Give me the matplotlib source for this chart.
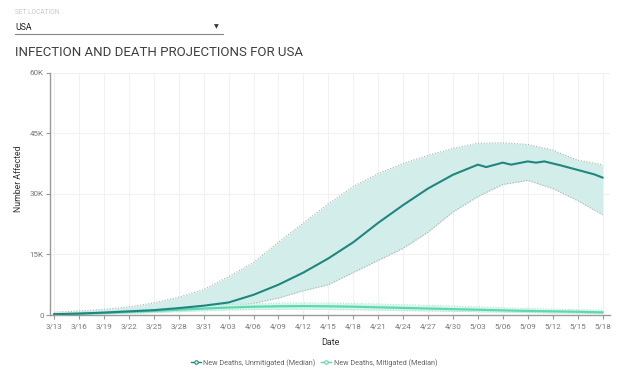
import pandas as pd
import numpy as np
import matplotlib
matplotlib.use('Agg')
import matplotlib.pyplot as plt
from matplotlib.lines import Line2D

plt.rcParams['font.family'] = ['Roboto', 'DejaVu Sans']

# dates every 3 days (band data + tick labels)
band_dates = ['3/13', '3/16', '3/19', '3/22', '3/25', '3/28', '3/31', '4/03', '4/06', '4/09',
              '4/12', '4/15', '4/18', '4/21', '4/24', '4/27', '4/30', '5/03', '5/06', '5/09',
              '5/12', '5/15', '5/18']

# unmitigated deaths, median (finer near the peak)
unmit_dates = ['3/13', '3/16', '3/19', '3/22', '3/25', '3/28', '3/31', '4/03', '4/06', '4/09',
               '4/12', '4/15', '4/18', '4/21', '4/24', '4/27', '4/30', '5/03', '5/04', '5/06',
               '5/07', '5/09', '5/10', '5/11', '5/13', '5/15', '5/17', '5/18']
unmit_median = [200, 350, 600, 900, 1200, 1700, 2300, 3100, 5000, 7500,
                10500, 14000, 18000, 22800, 27200, 31300, 34700, 37200, 36600, 37700,
                37200, 38000, 37700, 38000, 37000, 35900, 34800, 34000]

unmit_upper = [700, 1000, 1400, 2000, 3000, 4400, 6300, 9500, 13000, 18000,
               22800, 27500, 31800, 35000, 37500, 39500, 41200, 42500, 42600, 42200,
               40800, 38300, 37200]
unmit_lower = [100, 200, 300, 450, 650, 950, 1400, 2000, 2900, 4200,
               6000, 7500, 10500, 13500, 16500, 20500, 25500, 29300, 32300, 33300,
               31300, 28300, 24800]

mit_median = [150, 300, 500, 750, 1000, 1300, 1600, 1850, 2050, 2150,
              2200, 2150, 2050, 1900, 1750, 1600, 1450, 1300, 1150, 1000,
              900, 800, 650]
mit_upper = [400, 600, 850, 1150, 1500, 1900, 2300, 2600, 2800, 2950,
             3000, 2950, 2850, 2700, 2550, 2400, 2200, 2000, 1800, 1600,
             1450, 1300, 1200]
mit_lower = [50, 150, 300, 450, 650, 850, 1050, 1250, 1350, 1400,
             1400, 1350, 1300, 1200, 1100, 1000, 900, 800, 700, 600,
             500, 450, 350]

yticks = [0, 15000, 30000, 45000, 60000]
ytick_labels = ['0', '15K', '30K', '45K', '60K']

start = pd.Timestamp('2020-03-13')
def to_days(lst):
    return np.array([(pd.Timestamp('2020/' + d) - start).days for d in lst])

xb = to_days(band_dates)
xm = to_days(unmit_dates)

teal = '#20877e'
teal_fill = '#d3edea'
mint = '#5ed8b2'
mint_fill = '#d3f5e9'

fig = plt.figure(figsize=(6.34, 3.78), dpi=100)
ax = fig.add_axes([50 / 634, 63 / 378, 560 / 634, 242.5 / 378])

ax.fill_between(xb, unmit_lower, unmit_upper, color=teal_fill, lw=0, zorder=1)
ax.plot(xb, unmit_upper, color='#a8b4b2', lw=0.8, ls=(0, (1, 1.5)), zorder=2)
ax.plot(xb, unmit_lower, color='#a8b4b2', lw=0.8, ls=(0, (1, 1.5)), zorder=2)

ax.fill_between(xb, mit_lower, mit_upper, color=mint_fill, alpha=0.9, lw=0, zorder=3)
ax.plot(xb, mit_upper, color='#a6e6d0', lw=0.8, ls=(0, (1, 1.5)), zorder=3)
ax.plot(xb, mit_lower, color='#a6e6d0', lw=0.8, ls=(0, (1, 1.5)), zorder=3)

ax.plot(xm, unmit_median, color=teal, lw=1.5, zorder=5)
ax.plot(xb, mit_median, color=mint, lw=1.6, zorder=4)

ax.set_xlim(-0.5, 66.9)
ax.set_ylim(0, 60000)
ax.set_xticks(xb)
ax.set_xticklabels(band_dates)
ax.set_yticks(yticks)
ax.set_yticklabels(ytick_labels)
ax.tick_params(axis='both', colors='#999999', labelcolor='#777777', labelsize=5.8,
               length=3, width=0.8)
ax.tick_params(axis='x', pad=3)
ax.tick_params(axis='y', pad=1.5)
ax.grid(True, color='#f1f1f1', lw=0.8)
ax.set_axisbelow(True)
for s in ['top', 'right']:
    ax.spines[s].set_visible(False)
for s in ['left', 'bottom']:
    ax.spines[s].set_color('#9a9a9a')
    ax.spines[s].set_linewidth(1.0)

ax.set_xlabel('Date', fontsize=6.5, color='#333333', labelpad=6)
ax.set_ylabel('Number Affected', fontsize=6.2, color='#333333')
ax.yaxis.set_label_coords(-27 / 560, 0.56)

# legend
handles = [Line2D([], [], color=teal, lw=1, marker='o', ms=2.5, mfc='white', mew=0.8),
           Line2D([], [], color=mint, lw=1, marker='o', ms=2.5, mfc='white', mew=0.8)]
leg = fig.legend(handles, ['New Deaths, Unmitigated (Median)', 'New Deaths, Mitigated (Median)'],
                 loc='center', bbox_to_anchor=(314 / 634, 1 - 363 / 378), ncol=2, frameon=False,
                 fontsize=5.2, handlelength=1.4, handletextpad=0.3, columnspacing=0.8)
for t in leg.get_texts():
    t.set_color('#666666')

# header
fig.text(15 / 634, 1 - 13 / 378, 'SET LOCATION', fontsize=4.8, color='#c8c8c8', va='center')
fig.text(15 / 634, 1 - 27 / 378, 'USA', fontsize=6.3, color='#222222', va='center')
fig.add_artist(Line2D([15 / 634, 223 / 634], [1 - 34 / 378, 1 - 34 / 378], color='#888888', lw=0.8))
fig.text(216 / 634, 1 - 27 / 378, '\u25BC', fontsize=4.5, color='#333333', va='center', ha='center',
         family=['DejaVu Sans'])
fig.text(15 / 634, 1 - 53 / 378, 'INFECTION AND DEATH PROJECTIONS FOR USA', fontsize=9.5,
         color='#3f3f3f', va='center')

plt.savefig('out.png', dpi=100)
